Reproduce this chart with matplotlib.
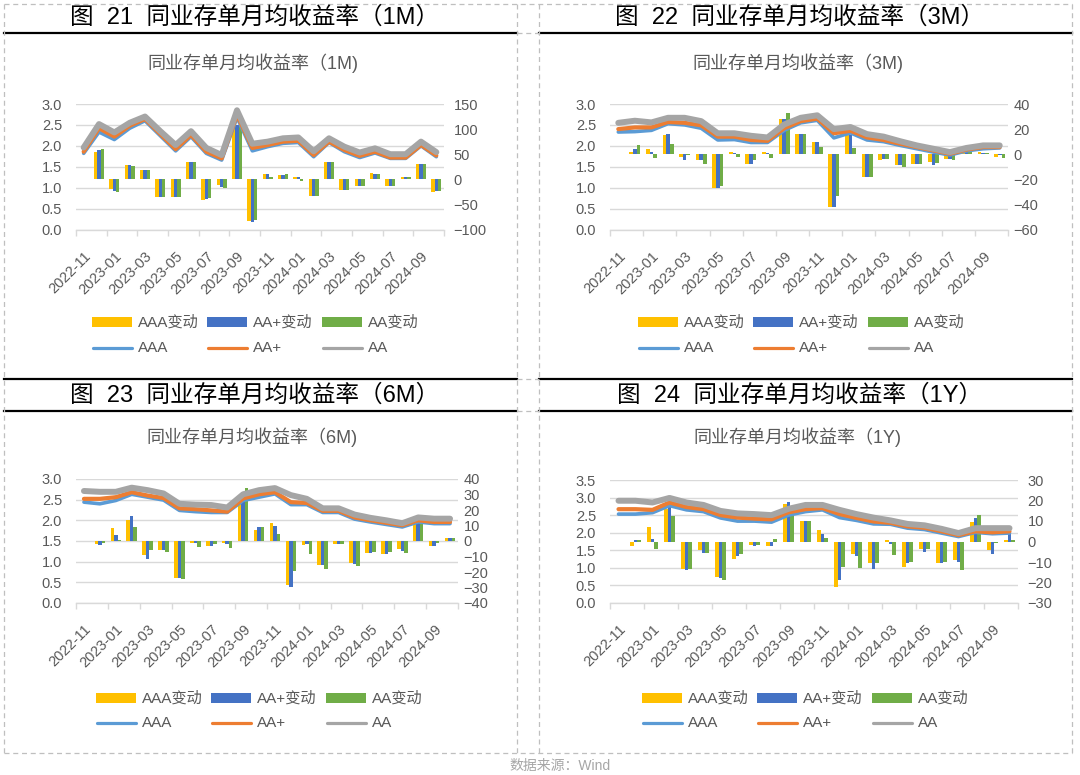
import numpy as np
import matplotlib.pyplot as plt
from matplotlib.lines import Line2D
from matplotlib.patches import Rectangle

plt.rcParams['font.family'] = ['Liberation Sans', 'Noto Sans CJK SC']

W, H = 1080, 775

months = ['2022-11', '2022-12', '2023-01', '2023-02', '2023-03', '2023-04',
          '2023-05', '2023-06', '2023-07', '2023-08', '2023-09', '2023-10',
          '2023-11', '2023-12', '2024-01', '2024-02', '2024-03', '2024-04',
          '2024-05', '2024-06', '2024-07', '2024-08', '2024-09', '2024-10']

# 1M yields (%) and monthly changes (bp)
aaa_1m = [1.82, 2.33, 2.15, 2.42, 2.60, 2.24, 1.88, 2.22, 1.82, 1.66, 2.68, 1.88,
          1.98, 2.06, 2.08, 1.74, 2.08, 1.86, 1.72, 1.83, 1.70, 1.70, 2.00, 1.74]
aap_1m = [1.86, 2.42, 2.22, 2.48, 2.64, 2.28, 1.92, 2.26, 1.86, 1.70, 2.74, 1.95,
          2.02, 2.10, 2.12, 1.78, 2.10, 1.90, 1.76, 1.86, 1.72, 1.72, 2.02, 1.77]
aa_1m = [1.96, 2.52, 2.32, 2.55, 2.70, 2.35, 2.02, 2.35, 1.95, 1.78, 2.85, 2.05,
         2.10, 2.18, 2.20, 1.87, 2.18, 1.98, 1.84, 1.94, 1.80, 1.80, 2.10, 1.85]
d_aaa_1m = [0, 54, -19, 29, 18, -36, -36, 35, -42, -12, 106, -83,
            10, 8, 5, -34, 35, -21, -14, 13, -14, 5, 30, -25]
d_aap_1m = [0, 58, -23, 29, 18, -36, -36, 35, -39, -15, 109, -85,
            11, 9, 5, -34, 35, -21, -14, 11, -14, 5, 30, -24]
d_aa_1m = [0, 60, -25, 27, 18, -36, -36, 35, -37, -18, 111, -82,
           5, 11, -3, -34, 35, -21, -14, 11, -14, 5, 30, -24]

# 3M
aaa_3m = [2.33, 2.34, 2.37, 2.53, 2.50, 2.42, 2.14, 2.15, 2.08, 2.08, 2.37, 2.55,
          2.61, 2.19, 2.31, 2.14, 2.10, 2.01, 1.93, 1.85, 1.78, 1.88, 1.93, 1.95]
aap_3m = [2.40, 2.44, 2.44, 2.57, 2.55, 2.49, 2.22, 2.22, 2.14, 2.12, 2.42, 2.59,
          2.65, 2.30, 2.36, 2.20, 2.14, 2.05, 1.97, 1.89, 1.81, 1.91, 1.97, 1.97]
aa_3m = [2.55, 2.60, 2.56, 2.67, 2.67, 2.59, 2.30, 2.30, 2.24, 2.20, 2.51, 2.67,
         2.73, 2.40, 2.45, 2.28, 2.22, 2.11, 2.01, 1.93, 1.85, 1.95, 2.01, 2.01]
d_aaa_3m = [0, 2, 4, 15, -2, -5, -27, 1.5, -8, 2, 28, 16,
            10, -42, 15, -18, -5, -9, -8, -6.5, -4, 5, 2, -2]
d_aap_3m = [0, 4, 2, 16, -5, -5, -27, 1, -8, 1, 28, 16,
            10, -42, 15, -18, -4, -9, -8, -9, -4, 4, 1, -1]
d_aa_3m = [0, 7, -3, 8, -1, -8, -25, -2, -5, -3, 33, 16,
           6, -33, 5, -18, -3.5, -10, -8, -7, -5, 3, 1, -3]

# 6M
aaa_6m = [2.44, 2.40, 2.48, 2.63, 2.56, 2.49, 2.24, 2.21, 2.19, 2.19, 2.48, 2.56,
          2.64, 2.38, 2.38, 2.19, 2.19, 2.03, 1.96, 1.90, 1.84, 1.96, 1.92, 1.92]
aap_6m = [2.52, 2.52, 2.56, 2.68, 2.60, 2.54, 2.29, 2.27, 2.24, 2.21, 2.53, 2.63,
          2.68, 2.44, 2.42, 2.23, 2.23, 2.07, 2.00, 1.94, 1.88, 2.00, 1.96, 1.96]
aa_6m = [2.71, 2.69, 2.69, 2.79, 2.73, 2.65, 2.40, 2.38, 2.37, 2.31, 2.63, 2.73,
         2.78, 2.61, 2.52, 2.29, 2.29, 2.14, 2.06, 2.00, 1.93, 2.07, 2.04, 2.04]
d_aaa_6m = [0, -1.7, 8.3, 13.4, -8.8, -5.9, -23.6, -1.2, -3.2, -1.2, 28, 7.0,
            11.6, -28.3, -2.3, -15.4, -1.7, -14.3, -7.6, -8.1, -5.4, 10.8, -3.4, 1.9]
d_aap_6m = [0, -2.5, 4.1, 15.9, -11.4, -5.9, -23.6, -1.2, -3.2, -1.7, 30, 9.2,
            9.6, -29.4, -2.1, -15.4, -1.7, -15.0, -7.6, -8.1, -6.5, 11.9, -3.4, 1.9]
d_aa_6m = [0, -1.2, 0.8, 9.2, -6.1, -7.2, -24.7, -4.1, -1.7, -4.5, 34, 9.2,
           4.5, -19.6, -8.1, -18.1, -1.7, -15.9, -6.8, -6.8, -7.6, 11.9, -1.4, 1.9]

# 1Y
aaa_1y = [2.53, 2.53, 2.57, 2.77, 2.65, 2.60, 2.42, 2.33, 2.33, 2.30, 2.50, 2.60,
          2.65, 2.43, 2.35, 2.25, 2.24, 2.13, 2.09, 1.99, 1.89, 2.01, 1.97, 1.99]
aap_1y = [2.67, 2.67, 2.65, 2.86, 2.73, 2.67, 2.50, 2.43, 2.40, 2.38, 2.58, 2.67,
          2.70, 2.53, 2.42, 2.32, 2.28, 2.18, 2.14, 2.04, 1.93, 2.04, 2.01, 2.04]
aa_1y = [2.91, 2.91, 2.86, 2.99, 2.86, 2.79, 2.62, 2.55, 2.53, 2.50, 2.68, 2.79,
         2.79, 2.65, 2.53, 2.43, 2.35, 2.25, 2.21, 2.11, 1.99, 2.13, 2.13, 2.13]
d_aaa_1y = [0, -2, 7.3, 16, -13.4, -4.3, -17.4, -8.5, -1.6, -2.3, 18.2, 9.8,
            5.8, -22.4, -6.0, -10.7, 0.8, -12.4, -3.9, -10.7, -9.0, 9.5, -4.3, 0.5]
d_aap_1y = [0, 0.5, 1.1, 18, -14.0, -5.6, -17.7, -7.0, -2.3, -2.3, 19.2, 9.8,
            3.9, -18.6, -7.3, -13.5, -1.4, -10.7, -5.1, -10.7, -10.0, 11.7, -6.0, 4]
d_aa_1y = [0, 0.5, -3.9, 12.5, -13.4, -5.6, -18.7, -6.0, -1.6, 1.4, 17.4, 9.8,
           1.8, -12.4, -13.0, -10.7, -6.8, -10.0, -3.6, -10.0, -14.0, 12.9, -0.6, 0.5]

C_BAR = ['#FFC000', '#4472C4', '#70AD47']
C_LINE = ['#5B9BD5', '#ED7D31', '#A5A5A5']
LW_LINE = [2.6, 3.0, 4.3]
GRAY_TXT = '#595959'
GRID = '#D9D9D9'
BORDER = '#BFBFBF'


def fx(x):
    return x / W


def fy(y):
    return 1 - y / H


def add_axes_px(x0, y0, x1, y1):
    return fig.add_axes([fx(x0), fy(y1), (x1 - x0) / W, (y1 - y0) / H])


def hline(x0, x1, y, **kw):
    fig.add_artist(Line2D([fx(x0), fx(x1)], [fy(y), fy(y)], transform=fig.transFigure, **kw))


def vline(x, y0, y1, **kw):
    fig.add_artist(Line2D([fx(x), fx(x)], [fy(y0), fy(y1)], transform=fig.transFigure, **kw))


def draw_chart(box, lines, bars, ylim1, step1, ylim2, step2, pad2):
    x = np.arange(len(months))
    ax1 = add_axes_px(*box)
    ax1.set_xlim(-0.5, len(months) - 0.5)
    ax1.set_ylim(*ylim1)
    ax1.set_yticks(np.arange(ylim1[0], ylim1[1] + 0.001, step1))
    ax1.yaxis.set_major_formatter(plt.FormatStrFormatter('%.1f'))
    ax1.yaxis.grid(True, color=GRID, lw=1.0)
    ax1.set_axisbelow(True)
    for s in ['top', 'left', 'right']:
        ax1.spines[s].set_visible(False)
    ax1.spines['bottom'].set_color(GRID)
    ax1.spines['bottom'].set_linewidth(1.0)
    ax1.tick_params(axis='y', length=0, pad=10, labelsize=10.5, labelcolor=GRAY_TXT)
    ax1.set_xticks(x[::2])
    ax1.set_xticklabels(months[::2], rotation=45, ha='right', va='top',
                        rotation_mode='anchor', fontsize=10.5, color=GRAY_TXT)
    ax1.tick_params(axis='x', which='major', length=0, pad=14)
    ax1.set_xticks(np.arange(-0.5, len(months), 2), minor=True)
    ax1.tick_params(axis='x', which='minor', length=4, color=GRID, width=1.0)

    ax2 = ax1.twinx()
    ax2.set_ylim(*ylim2)
    ax2.set_yticks(np.arange(ylim2[0], ylim2[1] + 0.001, step2))
    for s in ax2.spines.values():
        s.set_visible(False)
    ax2.tick_params(axis='y', length=0, pad=pad2, labelsize=10.5, labelcolor=GRAY_TXT)
    w = 0.22
    for k, (vals, c) in enumerate(zip(bars, C_BAR)):
        ax2.bar(x + (k - 1) * w, vals, w, color=c, linewidth=0)

    ax3 = ax1.twinx()
    ax3.set_ylim(*ylim1)
    ax3.axis('off')
    for vals, c, lw in zip(lines, C_LINE, LW_LINE):
        ax3.plot(x, vals, color=c, lw=lw, solid_joinstyle='round', solid_capstyle='round')


def draw_legend(x0, y_row1, y_row2):
    bar_names = ['AAA变动', 'AA+变动', 'AA变动']
    line_names = ['AAA', 'AA+', 'AA']
    for k in range(3):
        px = x0 + k * 115
        fig.add_artist(Rectangle((fx(px), fy(y_row1 + 5)), 40 / W, 10 / H,
                                 transform=fig.transFigure, color=C_BAR[k], lw=0))
        fig.text(fx(px + 46), fy(y_row1), bar_names[k], fontsize=11, color=GRAY_TXT,
                 ha='left', va='center')
        fig.add_artist(Line2D([fx(px + 1), fx(px + 40)], [fy(y_row2), fy(y_row2)],
                              transform=fig.transFigure, color=C_LINE[k], lw=2.3,
                              solid_capstyle='round'))
        fig.text(fx(px + 46), fy(y_row2), line_names[k], fontsize=11, color=GRAY_TXT,
                 ha='left', va='center')


fig = plt.figure(figsize=(W / 100, H / 100), dpi=100)

panels = [
    dict(num=21, tenor='1M', px0=4, px1=517, head_y=17, top_line=None, bot_line=33,
         title_y=63, box=(76, 104, 444, 229.5),
         lines=(aaa_1m, aap_1m, aa_1m), bars=(d_aaa_1m, d_aap_1m, d_aa_1m),
         ylim1=(0, 3), step1=0.5, ylim2=(-100, 150), step2=50, pad2=7,
         leg=(92, 322, 348)),
    dict(num=22, tenor='3M', px0=539, px1=1072, head_y=17, top_line=None, bot_line=33,
         title_y=63, box=(610, 104, 1008, 229.5),
         lines=(aaa_3m, aap_3m, aa_3m), bars=(d_aaa_3m, d_aap_3m, d_aa_3m),
         ylim1=(0, 3), step1=0.5, ylim2=(-60, 40), step2=20, pad2=4,
         leg=(638, 322, 348)),
    dict(num=23, tenor='6M', px0=4, px1=517, head_y=395, top_line=379, bot_line=411,
         title_y=437, box=(76, 479, 458, 603),
         lines=(aaa_6m, aap_6m, aa_6m), bars=(d_aaa_6m, d_aap_6m, d_aa_6m),
         ylim1=(0, 3), step1=0.5, ylim2=(-40, 40), step2=10, pad2=4,
         leg=(96, 698, 723)),
    dict(num=24, tenor='1Y', px0=539, px1=1072, head_y=395, top_line=379, bot_line=411,
         title_y=437, box=(610, 480, 1018, 603),
         lines=(aaa_1y, aap_1y, aa_1y), bars=(d_aaa_1y, d_aap_1y, d_aa_1y),
         ylim1=(0, 3.5), step1=0.5, ylim2=(-30, 30), step2=10, pad2=7,
         leg=(642, 698, 723)),
]

for p in panels:
    cx = (p['px0'] + p['px1']) / 2
    fig.text(fx(cx - 6), fy(p['head_y']), '图  %d  同业存单月均收益率（%s）' % (p['num'], p['tenor']),
             fontsize=17, color='black', ha='center', va='center')
    hline(p['px0'], p['px1'], p['bot_line'], color='black', lw=1.6)
    if p['top_line'] is not None:
        hline(p['px0'], p['px1'], p['top_line'], color='black', lw=1.6)
    fig.text(fx(cx - 8), fy(p['title_y']), '同业存单月均收益率（%s)' % p['tenor'],
             fontsize=13, color=GRAY_TXT, ha='center', va='center')
    draw_chart(p['box'], p['lines'], p['bars'], p['ylim1'], p['step1'],
               p['ylim2'], p['step2'], p['pad2'])
    draw_legend(*p['leg'])

# dashed frame
dash = dict(color=BORDER, lw=0.9, ls=(0, (4, 3)))
for xv in [4, 517, 539, 1072]:
    vline(xv, 4, 753, **dash)
hline(4, 1072, 4, **dash)
hline(4, 1072, 753, **dash)
for yv in [33, 379, 411]:
    hline(517, 539, yv, **dash)

fig.text(fx(560), fy(766), '数据来源：Wind', fontsize=10, color='#A6A6A6',
         ha='center', va='center')

fig.savefig('out.png', dpi=100)
